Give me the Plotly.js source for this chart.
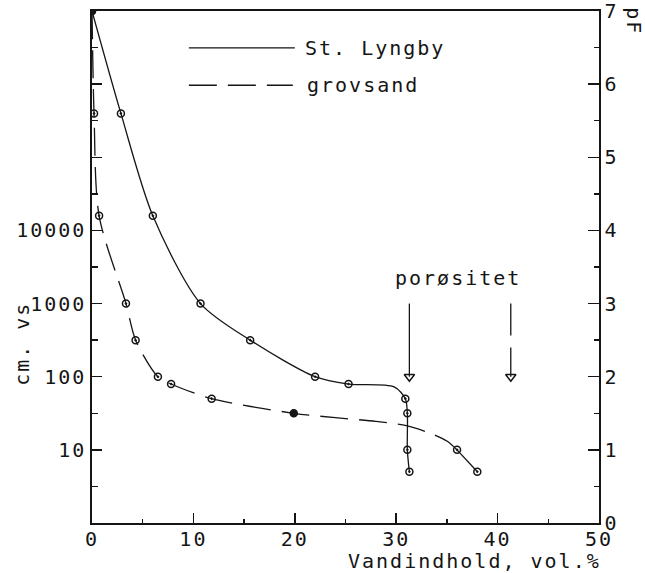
<!DOCTYPE html>
<html>
<head>
<meta charset="utf-8">
<script src="https://cdn.plot.ly/plotly-3.0.1.min.js"></script>
<style>
  html, body { margin: 0; padding: 0; background: #fff; }
  .main-svg text { letter-spacing: 2px; }
</style>
</head>
<body>
<div id="chart" style="width:645px;height:573px;"></div>
<script>
// ---- data ----
// St. Lyngby: measured points, water content (vol.%) vs pF
const lyngbyX  = [0.0, 2.85, 6.0, 10.7, 15.6, 22.0, 25.3, 30.9, 31.1, 31.1, 31.3];
const lyngbyPF = [7.0, 5.6, 4.2, 3.0, 2.5, 2.0, 1.9, 1.7, 1.5, 1.0, 0.7];
const lyngbyFilled = [true, false, false, false, false, false, false, false, false, false, false];
// St. Lyngby: drawn curve
const lyngbyCurveX  = [0.0, 2.85, 6.0, 10.7, 15.6, 22.0, 25.3, 29.8, 30.9, 31.1, 31.1, 31.3];
const lyngbyCurvePF = [7.0, 5.6, 4.2, 3.0, 2.5, 2.0, 1.9, 1.86, 1.7, 1.5, 1.0, 0.7];

// grovsand (coarse sand): measured points
const grovX  = [0.0, 0.2, 0.7, 3.35, 4.3, 6.5, 7.8, 11.8, 19.9, 36.0, 38.0];
const grovPF = [7.0, 5.6, 4.2, 3.0, 2.5, 2.0, 1.9, 1.7, 1.5, 1.0, 0.7];
const grovFilled = [true, false, false, false, false, false, false, false, true, false, false];
// grovsand: dashed curve read along the line, and the solid tail
const grovCurveX  = [0.0, 0.2, 0.7, 3.35, 4.3, 6.5, 7.8, 11.8, 19.9, 24.0, 28.0, 31.0, 33.5, 35.0, 36.0];
const grovCurvePF = [7.0, 5.6, 4.2, 3.0, 2.5, 2.0, 1.9, 1.7, 1.5, 1.44, 1.39, 1.33, 1.22, 1.12, 1.0];
const grovTailX  = [36.0, 38.0];
const grovTailPF = [1.0, 0.7];

// porosity arrows
const porosityX = [31.3, 41.3];     // St. Lyngby, grovsand
const arrowTopPF = 3.0;
const arrowTipPF = 2.0;
const porosityLabel = 'porøsitet';

// axis tick labels
const xTickVals = [0, 10, 20, 30, 40, 50];
const cmTickVals = [10, 100, 1000, 10000, 100000, 1000000];
const cmTickText = ['10', '100', '1000', '10000', '', ''];
const cmMinorVals = [3.162, 31.62, 316.2, 3162, 31623, 316228, 3162278];
const pfTickVals = [0, 1, 2, 3, 4, 5, 6, 7];

const seriesNames = ['St. Lyngby', 'grovsand'];

// pF -> cm water column (left log axis)
const toCm = a => a.map(p => Math.pow(10, p));

// ---- styling ----
const INK = '#151515';
const FONT = 'DejaVu Sans Mono, Liberation Mono, monospace';
const fs = 20;
const dashPat = '28px,11px';

function sym(filled) { return filled.map(f => f ? 'circle' : 'circle-open-dot'); }
const mk = (filled) => ({ symbol: sym(filled), size: 7, color: INK, line: { color: INK, width: 1.5 } });

const traces = [
  { // St. Lyngby curve
    x: lyngbyCurveX, y: toCm(lyngbyCurvePF), xaxis: 'x', yaxis: 'y', name: seriesNames[0],
    mode: 'lines', line: { color: INK, width: 1.3, shape: 'spline', smoothing: 0.8 }
  },
  { // grovsand dashed curve
    x: grovCurveX, y: toCm(grovCurvePF), xaxis: 'x', yaxis: 'y', name: seriesNames[1],
    mode: 'lines', line: { color: INK, width: 1.3, shape: 'spline', smoothing: 0.8, dash: dashPat }
  },
  { // grovsand solid tail
    x: grovTailX, y: toCm(grovTailPF), xaxis: 'x', yaxis: 'y',
    mode: 'lines', line: { color: INK, width: 1.3 }
  },
  { // St. Lyngby points
    x: lyngbyX, y: toCm(lyngbyPF), xaxis: 'x', yaxis: 'y', mode: 'markers', marker: mk(lyngbyFilled)
  },
  { // grovsand points
    x: grovX, y: toCm(grovPF), xaxis: 'x', yaxis: 'y', mode: 'markers', marker: mk(grovFilled)
  },
  {
    x: [porosityX[0], porosityX[0]], y: [arrowTopPF, arrowTipPF], xaxis: 'x', yaxis: 'y2',
    mode: 'lines', line: { color: INK, width: 1.3 }
  },
  {
    x: [porosityX[1], porosityX[1]], y: [arrowTopPF, arrowTipPF], xaxis: 'x', yaxis: 'y2',
    mode: 'lines', line: { color: INK, width: 1.3, dash: '32px,12px' }
  },
  {
    x: porosityX, y: [arrowTipPF, arrowTipPF], xaxis: 'x', yaxis: 'y2',
    mode: 'markers',
    marker: { symbol: 'triangle-down-open', size: 9, color: INK, line: { color: INK, width: 1.5 } }
  }
];

const tickfont = { family: FONT, size: fs, color: INK };

const layout = {
  width: 645, height: 573,
  margin: { l: 92, r: 46, t: 11, b: 50 },
  paper_bgcolor: '#fff', plot_bgcolor: '#fff',
  showlegend: false,
  font: { family: FONT, size: fs, color: INK },
  xaxis: {
    range: [0, 50], tickvals: xTickVals, ticks: 'inside', ticklen: 10, tickwidth: 1.5, tickcolor: INK,
    showline: true, linewidth: 1.6, linecolor: INK, mirror: true,
    showgrid: false, zeroline: false, tickfont: tickfont, ticklabelstandoff: -3,
    minor: { dtick: 5, ticks: 'inside', ticklen: 4, tickwidth: 1.3, tickcolor: INK }
  },
  yaxis: {
    type: 'log', range: [0, 7],
    tickmode: 'array', tickvals: cmTickVals, ticktext: cmTickText,
    ticks: 'inside', ticklen: 10, tickwidth: 1.5, tickcolor: INK,
    showline: true, linewidth: 1.6, linecolor: INK,
    showgrid: false, zeroline: false, tickfont: tickfont,
    minor: { tickmode: 'array', tickvals: cmMinorVals, ticks: 'inside', ticklen: 6, tickwidth: 1.3, tickcolor: INK }
  },
  yaxis2: {
    overlaying: 'y', side: 'right', range: [0, 7],
    tickmode: 'array', tickvals: pfTickVals, ticklabeloverflow: 'allow',
    ticks: 'inside', ticklen: 11, tickwidth: 1.5, tickcolor: INK,
    showline: true, linewidth: 1.6, linecolor: INK,
    showgrid: false, zeroline: false, tickfont: tickfont,
    minor: { dtick: 0.5, ticks: 'inside', ticklen: 5, tickwidth: 1.3, tickcolor: INK }
  },
  shapes: [
    { type: 'line', xref: 'paper', yref: 'paper', x0: 0.191, x1: 0.400, y0: 0.928, y1: 0.928,
      line: { color: INK, width: 1.3 } },
    { type: 'line', xref: 'paper', yref: 'paper', x0: 0.191, x1: 0.396, y0: 0.855, y1: 0.855,
      line: { color: INK, width: 1.3, dash: dashPat } }
  ],
  annotations: [
    { xref: 'paper', yref: 'paper', x: 0.435, y: 0.928, xanchor: 'left', yanchor: 'middle',
      text: seriesNames[0], showarrow: false, font: { family: FONT, size: fs, color: INK } },
    { xref: 'paper', yref: 'paper', x: 0.435, y: 0.855, xanchor: 'left', yanchor: 'middle',
      text: seriesNames[1], showarrow: false, font: { family: FONT, size: fs, color: INK } },
    { xref: 'x', yref: 'y2', x: 36.1, y: 3.35, xanchor: 'center', yanchor: 'middle',
      text: porosityLabel, showarrow: false, font: { family: FONT, size: fs, color: INK } },
    { xref: 'paper', yref: 'paper', x: 0.755, y: -0.074, xanchor: 'center', yanchor: 'middle',
      text: 'Vandindhold, vol.%', showarrow: false, font: { family: FONT, size: fs, color: INK } },
    { xref: 'paper', yref: 'paper', x: -0.138, y: 0.35, xanchor: 'center', yanchor: 'middle',
      text: 'cm. vs', textangle: -90, showarrow: false, font: { family: FONT, size: fs, color: INK } },
    { xref: 'paper', yref: 'paper', x: 1.07, y: 0.979, xanchor: 'center', yanchor: 'middle',
      text: 'pF', textangle: 90, showarrow: false, font: { family: FONT, size: fs, color: INK } }
  ]
};

Plotly.newPlot('chart', traces, layout, { staticPlot: true, displayModeBar: false });
</script>
</body>
</html>
